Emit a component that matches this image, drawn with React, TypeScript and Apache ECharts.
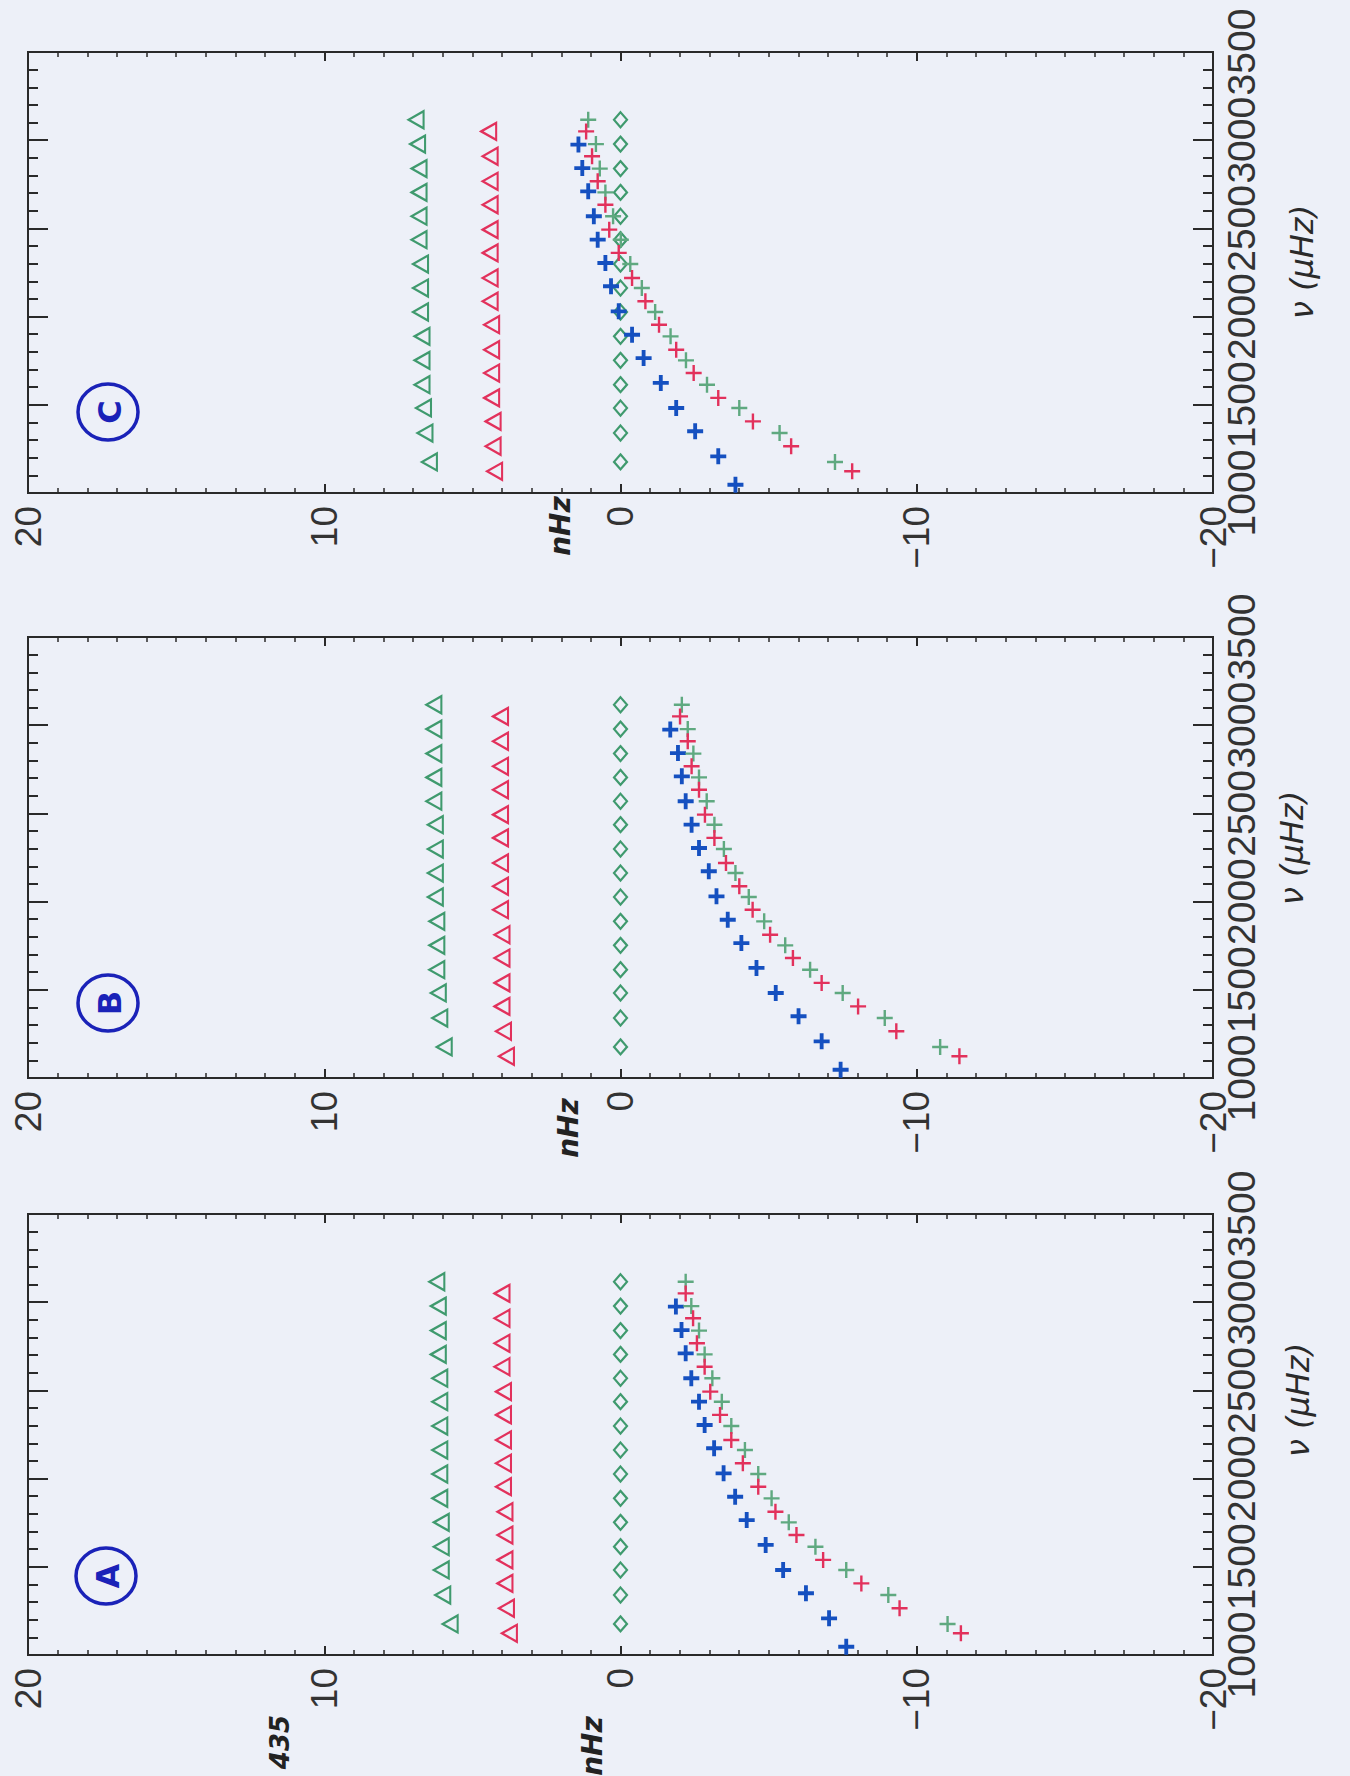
import React, { useEffect, useRef } from 'react';
import * as echarts from 'echarts';

// Frequencies (μHz) of the three mode sets
const freqGreen = [1176, 1340, 1482, 1614, 1752, 1888, 2026, 2162, 2298, 2436, 2569, 2704, 2839, 2978, 3116];
const freqRed = [1123, 1265, 1406, 1539, 1680, 1812, 1954, 2087, 2219, 2361, 2493, 2634, 2767, 2909, 3050];
const freqBlue = [1047, 1208, 1350, 1482, 1624, 1765, 1897, 2030, 2172, 2304, 2436, 2569, 2710, 2842, 2975];

// Diamonds (green) at zero in every panel
const diamondVals = [0, 0, 0, 0, 0, 0, 0, 0, 0, 0, 0, 0, 0, 0, 0];

// Panel A
const greenTriA = [5.75, 6.0, 6.05, 6.05, 6.05, 6.1, 6.1, 6.1, 6.1, 6.1, 6.1, 6.15, 6.15, 6.15, 6.2];
const redTriA = [3.75, 3.85, 3.9, 3.9, 3.9, 3.9, 3.95, 3.95, 3.95, 3.95, 3.95, 4.0, 4.0, 4.0, 4.0];
const bluePlusA = [-7.62, -7.04, -6.26, -5.49, -4.9, -4.26, -3.87, -3.48, -3.16, -2.84, -2.65, -2.39, -2.2, -2.06, -1.87];
const greenPlusA = [-11.04, -9.04, -7.62, -6.58, -5.68, -5.1, -4.65, -4.2, -3.74, -3.42, -3.1, -2.84, -2.65, -2.39, -2.2];
const redPlusA = [-11.49, -9.42, -8.13, -6.84, -5.94, -5.23, -4.65, -4.13, -3.74, -3.36, -3.03, -2.84, -2.58, -2.45, -2.2];

// Panel B
const greenTriB = [5.95, 6.1, 6.15, 6.2, 6.2, 6.2, 6.25, 6.25, 6.25, 6.25, 6.3, 6.3, 6.3, 6.3, 6.3];
const redTriB = [3.85, 3.95, 4.0, 4.0, 4.0, 4.0, 4.05, 4.05, 4.05, 4.05, 4.05, 4.05, 4.05, 4.05, 4.05];
const bluePlusB = [-7.43, -6.79, -6.01, -5.24, -4.59, -4.08, -3.62, -3.24, -2.98, -2.65, -2.4, -2.2, -2.07, -1.94, -1.68];
const greenPlusB = [-10.79, -8.92, -7.5, -6.4, -5.56, -4.85, -4.33, -3.88, -3.49, -3.17, -2.91, -2.65, -2.46, -2.27, -2.07];
const redPlusB = [-11.44, -9.31, -8.02, -6.79, -5.82, -5.05, -4.46, -4.01, -3.56, -3.17, -2.85, -2.65, -2.4, -2.27, -2.01];

// Panel C
const greenTriC = [6.45, 6.6, 6.65, 6.7, 6.7, 6.7, 6.75, 6.75, 6.75, 6.8, 6.8, 6.8, 6.8, 6.85, 6.9];
const redTriC = [4.25, 4.3, 4.3, 4.35, 4.35, 4.35, 4.35, 4.4, 4.4, 4.4, 4.4, 4.4, 4.4, 4.4, 4.45];
const bluePlusC = [-3.88, -3.3, -2.52, -1.88, -1.36, -0.78, -0.39, 0.06, 0.32, 0.51, 0.77, 0.9, 1.09, 1.29, 1.42];
const greenPlusC = [-7.24, -5.37, -4.01, -2.92, -2.21, -1.69, -1.17, -0.72, -0.33, -0.01, 0.25, 0.51, 0.7, 0.83, 1.09];
const redPlusC = [-7.82, -5.76, -4.47, -3.3, -2.47, -1.88, -1.3, -0.84, -0.39, 0.06, 0.38, 0.51, 0.77, 0.96, 1.16];

// Axis ranges / ticks
const nhzMin = -20;
const nhzMax = 20;
const nhzInterval = 10;
const freqMin = 1000;
const freqMax = 3500;
const freqInterval = 500;

const panelLabels = ['C', 'B', 'A'];

const GREEN = '#3f9a6e';
const GREEN_PLUS = '#5fa980';
const RED = '#e2315c';
const BLUE = '#1550c0';
const INK = '#2a2a2a';
const PEN = '#1a22b8';

const PLUS_THICK = 'path://M3.8,0L6.2,0L6.2,3.8L10,3.8L10,6.2L6.2,6.2L6.2,10L3.8,10L3.8,6.2L0,6.2L0,3.8L3.8,3.8Z';
const PLUS_THIN = 'path://M4.25,0L5.75,0L5.75,4.25L10,4.25L10,5.75L5.75,5.75L5.75,10L4.25,10L4.25,5.75L0,5.75L0,4.25L4.25,4.25Z';

const GRID_LEFT = 28;
const GRID_WIDTH = 1185;
const GRID_HEIGHT = 441;
const GRID_TOPS = [52, 637, 1214];

const pairs = (vals: number[], freqs: number[]) => vals.map((v, i) => [v, freqs[i]]);

export default function App() {
  const ref = useRef<HTMLDivElement>(null);

  useEffect(() => {
    document.body.style.margin = '0';
    document.body.style.background = '#edf0f8';
    if (!ref.current) return;
    const chart = echarts.init(ref.current, undefined, { renderer: 'svg' });

    const panelData = [
      { gt: greenTriC, rt: redTriC, bp: bluePlusC, gp: greenPlusC, rp: redPlusC },
      { gt: greenTriB, rt: redTriB, bp: bluePlusB, gp: greenPlusB, rp: redPlusB },
      { gt: greenTriA, rt: redTriA, bp: bluePlusA, gp: greenPlusA, rp: redPlusA },
    ];

    const fontFamily = '"Liberation Sans", Arial, sans-serif';
    const fmtNhz = (v: number) => (v < 0 ? '\u2212' + Math.abs(v) : String(v));
    const fmtFreq = (v: number) => String(Math.round(v));

    const grid: any[] = [];
    const xAxis: any[] = [];
    const yAxis: any[] = [];
    const series: any[] = [];

    GRID_TOPS.forEach((top, g) => {
      grid.push({
        left: GRID_LEFT,
        top,
        width: GRID_WIDTH,
        height: GRID_HEIGHT,
        show: true,
        borderColor: INK,
        borderWidth: 2,
        backgroundColor: 'transparent',
      });
      const xBase = {
        gridIndex: g,
        type: 'value',
        min: nhzMin,
        max: nhzMax,
        interval: nhzInterval,
        inverse: true,
        axisLine: { show: true, onZero: false, lineStyle: { color: INK, width: 2 } },
        axisTick: { show: true, inside: true, length: 9, lineStyle: { color: INK, width: 2 } },
        minorTick: { show: true, splitNumber: 10, length: 5, lineStyle: { color: INK, width: 1.5 } },
        splitLine: { show: false },
        minorSplitLine: { show: false },
      };
      xAxis.push({
        ...xBase,
        position: 'bottom',
        axisLabel: { fontFamily, fontSize: 37, color: '#333', rotate: 90, margin: 13, formatter: fmtNhz },
      });
      xAxis.push({ ...xBase, position: 'top', axisLabel: { show: false } });

      const yBase = {
        gridIndex: g,
        type: 'value',
        min: freqMin,
        max: freqMax,
        interval: freqInterval,
        axisLine: { show: true, onZero: false, lineStyle: { color: INK, width: 2 } },
        axisTick: { show: true, inside: true, length: 20, lineStyle: { color: INK, width: 2 } },
        minorTick: { show: true, splitNumber: 5, length: 10, lineStyle: { color: INK, width: 2 } },
        splitLine: { show: false },
        minorSplitLine: { show: false },
      };
      yAxis.push({
        ...yBase,
        position: 'right',
        axisLabel: { fontFamily, fontSize: 39, color: '#333', rotate: 90, margin: 9, formatter: fmtFreq },
      });
      yAxis.push({ ...yBase, position: 'left', axisLabel: { show: false } });

      const d = panelData[g];
      const ax = { xAxisIndex: 2 * g, yAxisIndex: 2 * g, silent: true };
      series.push({
        ...ax, type: 'scatter', name: 'green-tri-' + g, data: pairs(d.gt, freqGreen),
        symbol: 'triangle', symbolRotate: 90, symbolSize: [17, 15],
        itemStyle: { color: 'rgba(0,0,0,0)', borderColor: GREEN, borderWidth: 2.2, opacity: 1 },
      });
      series.push({
        ...ax, type: 'scatter', name: 'red-tri-' + g, data: pairs(d.rt, freqRed),
        symbol: 'triangle', symbolRotate: 90, symbolSize: [17, 15],
        itemStyle: { color: 'rgba(0,0,0,0)', borderColor: RED, borderWidth: 2.2, opacity: 1 },
      });
      series.push({
        ...ax, type: 'scatter', name: 'diamond-' + g, data: pairs(diamondVals, freqGreen),
        symbol: 'diamond', symbolSize: [13, 15],
        itemStyle: { color: 'rgba(0,0,0,0)', borderColor: GREEN, borderWidth: 2.2, opacity: 1 },
      });
      series.push({
        ...ax, type: 'scatter', name: 'blue-plus-' + g, data: pairs(d.bp, freqBlue),
        symbol: PLUS_THICK, symbolSize: 16,
        itemStyle: { color: BLUE, opacity: 1 },
      });
      series.push({
        ...ax, type: 'scatter', name: 'green-plus-' + g, data: pairs(d.gp, freqGreen),
        symbol: PLUS_THIN, symbolSize: 16,
        itemStyle: { color: GREEN_PLUS, opacity: 1 },
      });
      series.push({
        ...ax, type: 'scatter', name: 'red-plus-' + g, data: pairs(d.rp, freqRed),
        symbol: PLUS_THIN, symbolSize: 16,
        itemStyle: { color: RED, opacity: 1 },
      });
    });

    const rotText = (x: number, y: number, text: string, font: string, fill: string) => ({
      type: 'text',
      x,
      y,
      rotation: Math.PI / 2,
      silent: true,
      style: {
        text,
        font,
        fill,
        textAlign: 'center',
        align: 'center',
        textVerticalAlign: 'middle',
        verticalAlign: 'middle',
      },
    });

    const circleCenters = [
      [108, 412],
      [108, 1003],
      [106, 1576],
    ];
    const graphics: any[] = [];
    circleCenters.forEach((c, i) => {
      graphics.push({
        type: 'ellipse',
        silent: true,
        shape: { cx: c[0], cy: c[1], rx: 30, ry: 28 },
        style: { fill: 'none', stroke: PEN, lineWidth: 3.5 },
      });
      graphics.push(rotText(c[0] + 2, c[1], panelLabels[i], 'bold 32px "DejaVu Sans", sans-serif', PEN));
    });

    const nuTitles = [
      [1302, 262],
      [1292, 848],
      [1298, 1400],
    ];
    nuTitles.forEach((p) => {
      graphics.push(rotText(p[0], p[1], 'ν (μHz)', 'italic 32px "DejaVu Sans", sans-serif', '#2a2a2a'));
    });

    const nhzTitles = [
      [560, 526],
      [568, 1128],
      [592, 1746],
    ];
    nhzTitles.forEach((p) => {
      graphics.push(rotText(p[0], p[1], 'nHz', 'bold italic 28px "DejaVu Sans", sans-serif', '#222'));
    });
    graphics.push(rotText(280, 1742, '435', 'bold italic 26px "DejaVu Sans", sans-serif', '#222'));

    chart.setOption({
      animation: false,
      backgroundColor: '#edf0f8',
      grid,
      xAxis,
      yAxis,
      series,
      graphic: graphics,
    });

    return () => {
      chart.dispose();
    };
  }, []);

  return <div ref={ref} style={{ width: 1350, height: 1776 }} />;
}
